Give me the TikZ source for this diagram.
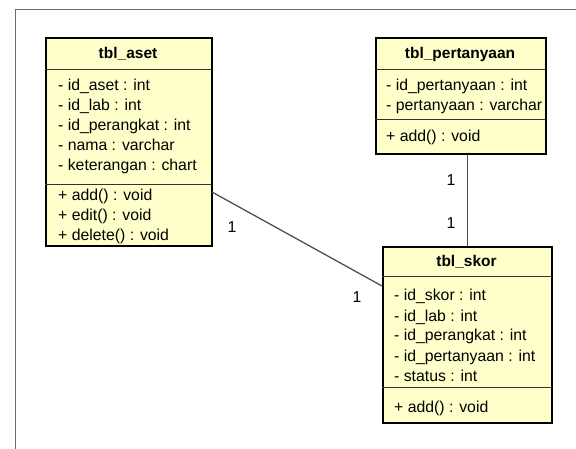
\documentclass[tikz,border=0pt]{standalone}
\usepackage{fontspec}
\setmainfont{Liberation Sans}
\definecolor{umlfill}{HTML}{FFFFCC}
\definecolor{framegray}{HTML}{6E6E6E}
\definecolor{assocgray}{HTML}{505050}
\tikzset{
  umlbox/.style={draw=black, line width=2.2pt, fill=umlfill, anchor=north west, inner sep=0pt},
  divider/.style={draw=black!80, line width=0.9pt},
  hdr/.style={font=\fontsize{15.5}{18}\selectfont\bfseries, inner sep=0pt, anchor=base},
  attr/.style={font=\fontsize{15.8}{19}\selectfont, anchor=base west, inner sep=0pt},
  mult/.style={font=\fontsize{15.8}{19}\selectfont, inner sep=0pt, anchor=base},
  assoc/.style={draw=assocgray, line width=1.3pt},
  frameline/.style={draw=framegray, line width=1.3pt}
}
\begin{document}
\begin{tikzpicture}[x=1pt,y=-1pt]
\useasboundingbox (0,0) rectangle (576,449);
\draw[frameline] (15.5,449) -- (15.5,9.5) -- (576,9.5);

% tbl_aset
\node[umlbox, minimum width=166pt, minimum height=208pt] (aset) at (45,37) {};
\draw[divider] (45,69) -- (211,69);
\draw[divider] (45,184) -- (211,184);
\node[hdr] (asetH) at (128,59) {tbl\_aset};
\node[attr] (a1) at (58,91) {- id\_aset : int};
\node[attr] (a2) at (58,111) {- id\_lab : int};
\node[attr] (a3) at (58,131) {- id\_perangkat : int};
\node[attr] (a4) at (58,151) {- nama : varchar};
\node[attr] (a5) at (58,171) {- keterangan : chart};
\node[attr] (a6) at (58,201) {+ add() : void};
\node[attr] (a7) at (58,221) {+ edit() : void};
\node[attr] (a8) at (58,241) {+ delete() : void};

% tbl_pertanyaan
\node[umlbox, minimum width=170pt, minimum height=116pt] (pert) at (375,37) {};
\draw[divider] (375,69) -- (545,69);
\draw[divider] (375,119) -- (545,119);
\node[hdr] (pertH) at (460,59) {tbl\_pertanyaan};
\node[attr] (p1) at (386,91) {- id\_pertanyaan : int};
\node[attr] (p2) at (386,111) {- pertanyaan : varchar};
\node[attr] (p3) at (386,142) {+ add() : void};

% tbl_skor
\node[umlbox, minimum width=169pt, minimum height=176pt] (skor) at (382,246) {};
\draw[divider] (382,276) -- (551,276);
\draw[divider] (382,387) -- (551,387);
\node[hdr] (skorH) at (466.5,267) {tbl\_skor};
\node[attr] (s1) at (394,301) {- id\_skor : int};
\node[attr] (s2) at (394,321) {- id\_lab : int};
\node[attr] (s3) at (394,341) {- id\_perangkat : int};
\node[attr] (s4) at (394,361) {- id\_pertanyaan : int};
\node[attr] (s5) at (394,381) {- status : int};
\node[attr] (s6) at (394,412) {+ add() : void};

% connectors
\coordinate (asetP) at (212,192);
\coordinate (skorP) at (382,286);
\draw[assoc] (asetP) -- (skorP);
\draw[assoc] (skor.north) -- (skor.north |- pert.south);

\node[mult] (m1) at (232,233) {1};
\node[mult] (m2) at (357,302) {1};
\node[mult] (m3) at (451,186) {1};
\node[mult] (m4) at (451,229) {1};
\end{tikzpicture}
\end{document}
